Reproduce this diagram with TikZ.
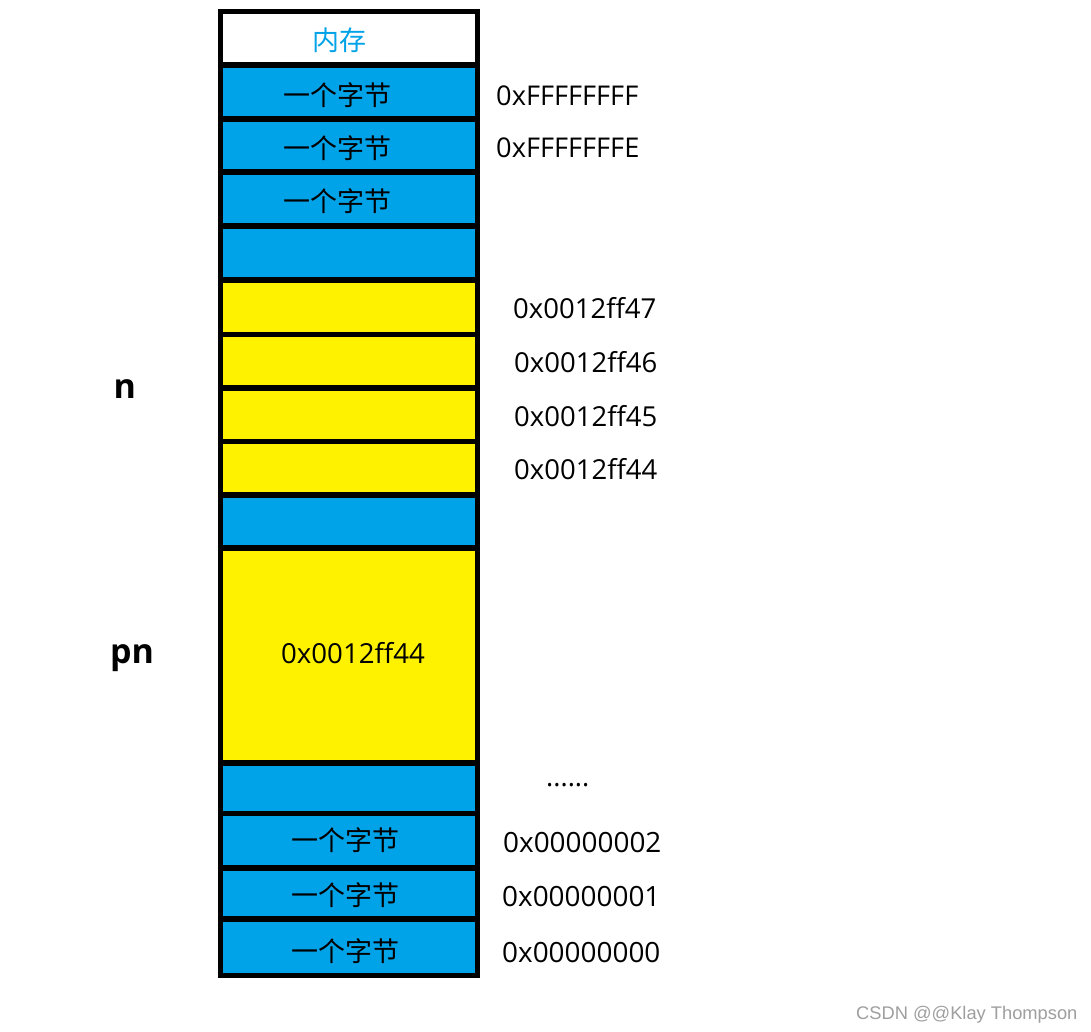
\documentclass[tikz,border=0pt]{standalone}
\usepackage{fontspec}
\setmainfont{Open Sans}
\newfontfamily\cjk{Noto Sans CJK SC}
\newfontfamily\wmfont{Liberation Sans}
\definecolor{mblue}{HTML}{00A2E8}
\definecolor{myellow}{HTML}{FFF200}
\definecolor{wmgray}{HTML}{9E9E9E}
\begin{document}
\begin{tikzpicture}[x=1pt,y=-1pt,
  cell/.style={draw=black,line width=5.5pt,minimum width=257pt,inner sep=0pt,outer sep=0pt,rectangle},
  bluecell/.style={cell,fill=mblue},
  yelcell/.style={cell,fill=myellow},
  bytetext/.style={inner sep=0pt,font=\cjk\fontsize{27}{30}\selectfont},
  addr/.style={anchor=base west,inner sep=0pt,font=\fontsize{#1}{30}\selectfont},
  varname/.style={anchor=base west,inner sep=0pt,font=\fontsize{34}{38}\selectfont\bfseries}]
\useasboundingbox (0,0) rectangle (1091,1031);
% cells
\node[cell,fill=white,minimum height=53.5pt] (r0) at (349,38.25) {};
\node[bluecell,minimum height=54pt] (r1) at (349,92) {};
\node[bluecell,minimum height=53pt] (r2) at (349,145.5) {};
\node[bluecell,minimum height=54pt] (r3) at (349,199) {};
\node[bluecell,minimum height=54pt] (r4) at (349,253) {};
\node[yelcell,minimum height=54.5pt] (r5) at (349,307.25) {};
\node[yelcell,minimum height=53.5pt] (r6) at (349,361.25) {};
\node[yelcell,minimum height=53.5pt] (r7) at (349,414.75) {};
\node[yelcell,minimum height=53.5pt] (r8) at (349,468.25) {};
\node[bluecell,minimum height=53pt] (r9) at (349,521.5) {};
\node[yelcell,minimum height=215pt] (r10) at (349,655.5) {};
\node[bluecell,minimum height=50.5pt] (r11) at (349,788.25) {};
\node[bluecell,minimum height=54.5pt] (r12) at (349,840.75) {};
\node[bluecell,minimum height=51pt] (r13) at (349,893.5) {};
\node[bluecell,minimum height=56.5pt] (r14) at (349,947.25) {};
% texts in cells
\node[bytetext,text=mblue] (t0) at (339,40) {内存};
\node[bytetext] (t1) at (337,95) {一个字节};
\node[bytetext] (t2) at (337,148.5) {一个字节};
\node[bytetext] (t3) at (337,201.5) {一个字节};
\node[bytetext] (t12) at (345,840) {一个字节};
\node[bytetext] (t13) at (345,895) {一个字节};
\node[bytetext] (t14) at (345,951.5) {一个字节};
\node[addr=27.6] (t10) at (281,663) {0x0012ff44};
% addresses
\node[addr=27.2] (a1) at (496,105) {0xFFFFFFFF};
\node[addr=27.2] (a2) at (496,157) {0xFFFFFFFE};
\node[addr=27.5] (a5) at (513,318) {0x0012ff47};
\node[addr=27.5] (a6) at (514,372) {0x0012ff46};
\node[addr=27.5] (a7) at (514,426) {0x0012ff45};
\node[addr=27.5] (a8) at (514,479) {0x0012ff44};
\node[addr=27] (a11) at (546,786) {......};
\node[addr=27.9] (a12) at (503,852) {0x00000002};
\node[addr=27.9] (a13) at (502,906) {0x00000001};
\node[addr=27.9] (a14) at (502,962) {0x00000000};
% variable names
\node[varname] (vn) at (113.5,398) {n};
\node[varname] (vpn) at (110,663) {pn};
% watermark
\node[anchor=base west,inner sep=0pt,text=wmgray,font=\wmfont\fontsize{18.3}{20}\selectfont] (wm) at (856,1019) {CSDN @@Klay Thompson};
\end{tikzpicture}
\end{document}
